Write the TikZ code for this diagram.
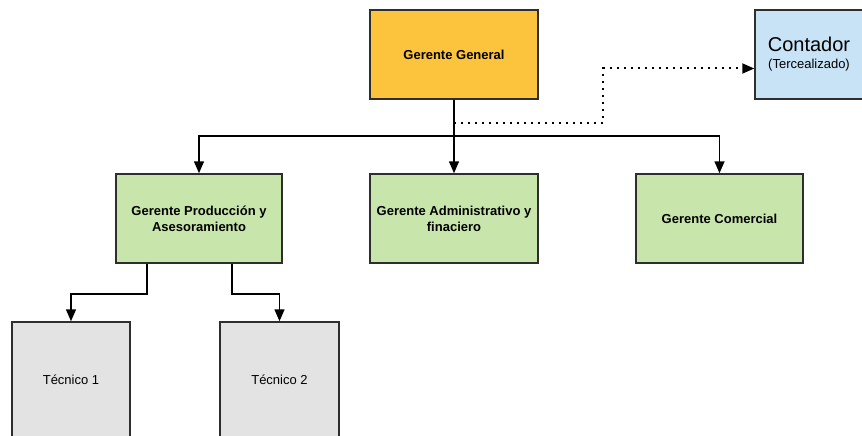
\documentclass[tikz,border=0pt]{standalone}
\usepackage{fontspec}
\setmainfont{Liberation Sans}
\usetikzlibrary{arrows.meta}
\definecolor{jefe}{HTML}{FBC43C}
\definecolor{gerente}{HTML}{C8E6AB}
\definecolor{externo}{HTML}{C8E3F5}
\definecolor{tecnico}{HTML}{E3E3E3}
\definecolor{borde}{HTML}{2E2E2E}
\tikzset{
  caja/.style={draw=borde, line width=1.5pt, align=center, inner sep=2pt,
    font=\fontsize{13}{16}\selectfont\bfseries},
  link/.style={line width=1.5pt, -{Triangle[length=12pt,width=10pt]}},
}
\begin{document}
\begin{tikzpicture}[x=1pt, y=-1pt]
      \useasboundingbox (0,0) rectangle (862,436);
      \draw
        (454,54.5) node[caja, fill=jefe, minimum width=168, minimum height=89] (gg){Gerente General}
        (809,54.5) node[caja, fill=externo, minimum width=108, minimum height=89, font=\fontsize{13}{15}\selectfont] (cont)
          {{\fontsize{20}{22}\selectfont Contador}\\[2pt](Tercealizado)}
        (199,218.5) node[caja, fill=gerente, minimum width=166, minimum height=89] (prod){Gerente Producción y\\Asesoramiento}
        (454,218.5) node[caja, fill=gerente, minimum width=168, minimum height=89] (adm){Gerente Administrativo y\\finaciero}
        (719.5,218.5) node[caja, fill=gerente, minimum width=167, minimum height=89] (com){Gerente Comercial}
        (71,380) node[caja, fill=tecnico, minimum width=118, minimum height=116, font=\fontsize{13}{16}\selectfont] (tec1){Técnico 1}
        (279.5,380) node[caja, fill=tecnico, minimum width=119, minimum height=116, font=\fontsize{13}{16}\selectfont] (tec2){Técnico 2};
      \begin{scope}[link]
        \draw (gg.south) -- (adm.north);
        \draw (gg.south) -- ++(0,36) -| (prod.north);
        \draw (gg.south) -- ++(0,36) -| (com.north);
        \draw ([xshift=-52pt]prod.south) -- ++(0,30) -| (tec1.north);
        \draw ([xshift=33pt]prod.south) -- ++(0,30) -| (tec2.north);
        \draw[line width=2pt, dash pattern=on 2pt off 5pt] ([yshift=-23pt]gg.south) -- ++(149,0) |- ([yshift=-14pt]cont.west);
      \end{scope}
    \end{tikzpicture}
\end{document}
